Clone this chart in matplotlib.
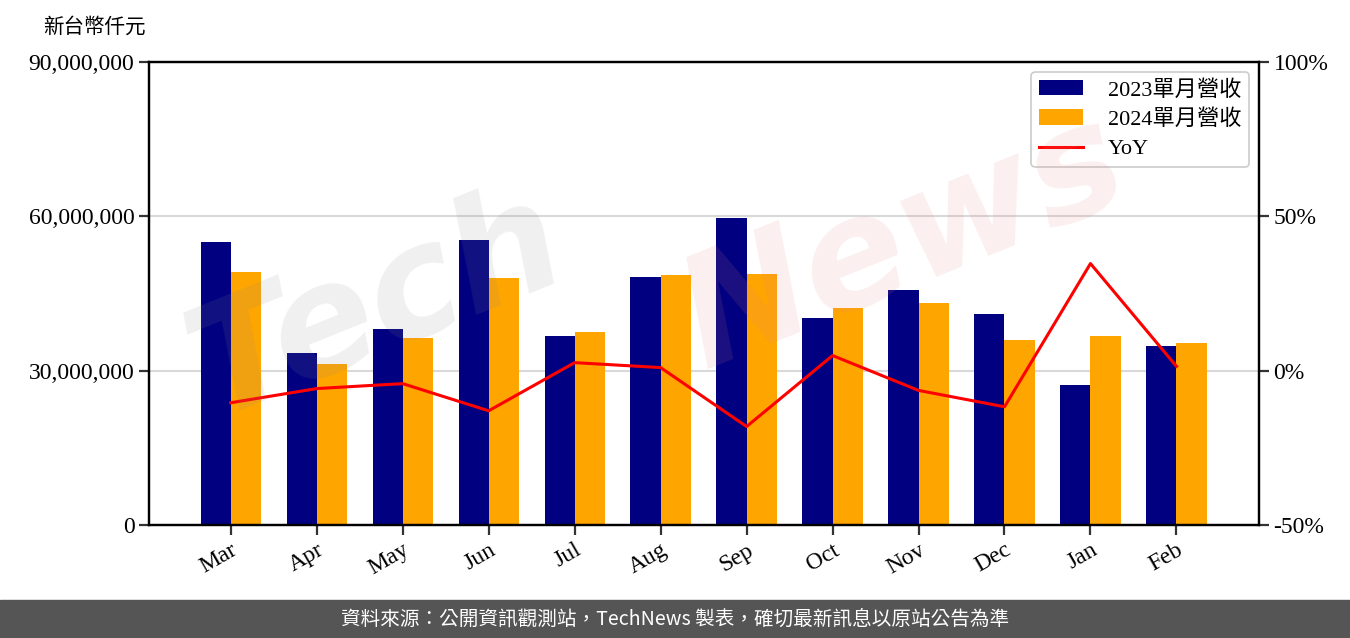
import matplotlib.pyplot as plt
import matplotlib.ticker as mticker
import numpy as np

months = ["Mar", "Apr", "May", "Jun", "Jul", "Aug", "Sep", "Oct", "Nov", "Dec", "Jan", "Feb"]
rev_2023 = [55.0, 33.4, 38.1, 55.4, 36.7, 48.2, 59.7, 40.2, 45.7, 41.0, 27.2, 34.8]  # millions
rev_2024 = [49.2, 31.3, 36.4, 48.0, 37.5, 48.6, 48.8, 42.2, 43.2, 36.0, 36.7, 35.4]
yoy = [-10.4, -5.8, -4.2, -13.0, 2.6, 1.0, -18.1, 4.9, -6.4, -11.7, 34.7, 1.4]

serif = ["Liberation Serif", "Noto Sans CJK TC", "DejaVu Sans"]
plt.rcParams["font.family"] = serif

fig = plt.figure(figsize=(13.5, 6.38), dpi=100)
ax = fig.add_axes([149 / 1350, 1 - 525 / 638, 1110 / 1350, 463 / 638])
ax2 = ax.twinx()

x = np.arange(len(months))
w = 0.35
b1 = ax.bar(x - w / 2, np.array(rev_2023) * 1e6, w, color="#000080", zorder=2)
b2 = ax.bar(x + w / 2, np.array(rev_2024) * 1e6, w, color="#FFA500", zorder=2)
ln, = ax2.plot(x, yoy, color="red", lw=2.2, zorder=3)

ax.set_ylim(0, 90e6)
ax.set_yticks([0, 30e6, 60e6, 90e6])
ax.yaxis.set_major_formatter(mticker.FuncFormatter(lambda v, p: f"{v:,.0f}"))
ax.set_xlim(-0.95, 11.96)
ax.set_xticks(x)
ax.set_xticklabels(months, rotation=30, ha="right", rotation_mode="anchor")
ax.grid(axis="y", color="#d9d9d9", lw=1.5, zorder=0)
ax.set_axisbelow(True)

ax2.set_ylim(-50, 100)
ax2.set_yticks([-50, 0, 50, 100])
ax2.yaxis.set_major_formatter(mticker.FuncFormatter(lambda v, p: f"{v:.0f}%"))

for a in (ax, ax2):
    for s in a.spines.values():
        s.set_linewidth(1.6)
    a.tick_params(labelsize=17, width=1.6, length=7, color="#333333")

fig.text(43 / 1350, 1 - 27 / 638, "新台幣仟元", fontsize=14.8, va="center", ha="left",
         family=["Noto Sans CJK TC"])

leg = ax.legend([b1, b2, ln], ["2023單月營收", "2024單月營收", "YoY"], loc="upper right",
                fontsize=16, framealpha=1, edgecolor="#cccccc", borderpad=0.35,
                handlelength=2.0, handletextpad=1.1, labelspacing=0.4,
                bbox_to_anchor=(1.0, 1.0), borderaxespad=0.45)
leg.get_frame().set_linewidth(1.2)

# watermark
fig.text(0.28, 0.52, "Tech", fontsize=110, color="#888888", alpha=0.13, rotation=22,
         ha="center", va="center", fontweight="bold", style="italic", family=["DejaVu Sans"], zorder=10)
fig.text(0.67, 0.62, "News", fontsize=110, color="#e08080", alpha=0.13, rotation=22,
         ha="center", va="center", fontweight="bold", style="italic", family=["DejaVu Sans"], zorder=10)

# footer
fig.patches.append(plt.Rectangle((0, 0), 1, 38 / 638, transform=fig.transFigure,
                                 color="#555555", zorder=0))
fig.text(0.5, 19 / 638, "資料來源：公開資訊觀測站，TechNews 製表，確切最新訊息以原站公告為準",
         color="white", fontsize=14.1, ha="center", va="center", family=["Noto Sans CJK TC"])

fig.savefig("out.png", dpi=100)
